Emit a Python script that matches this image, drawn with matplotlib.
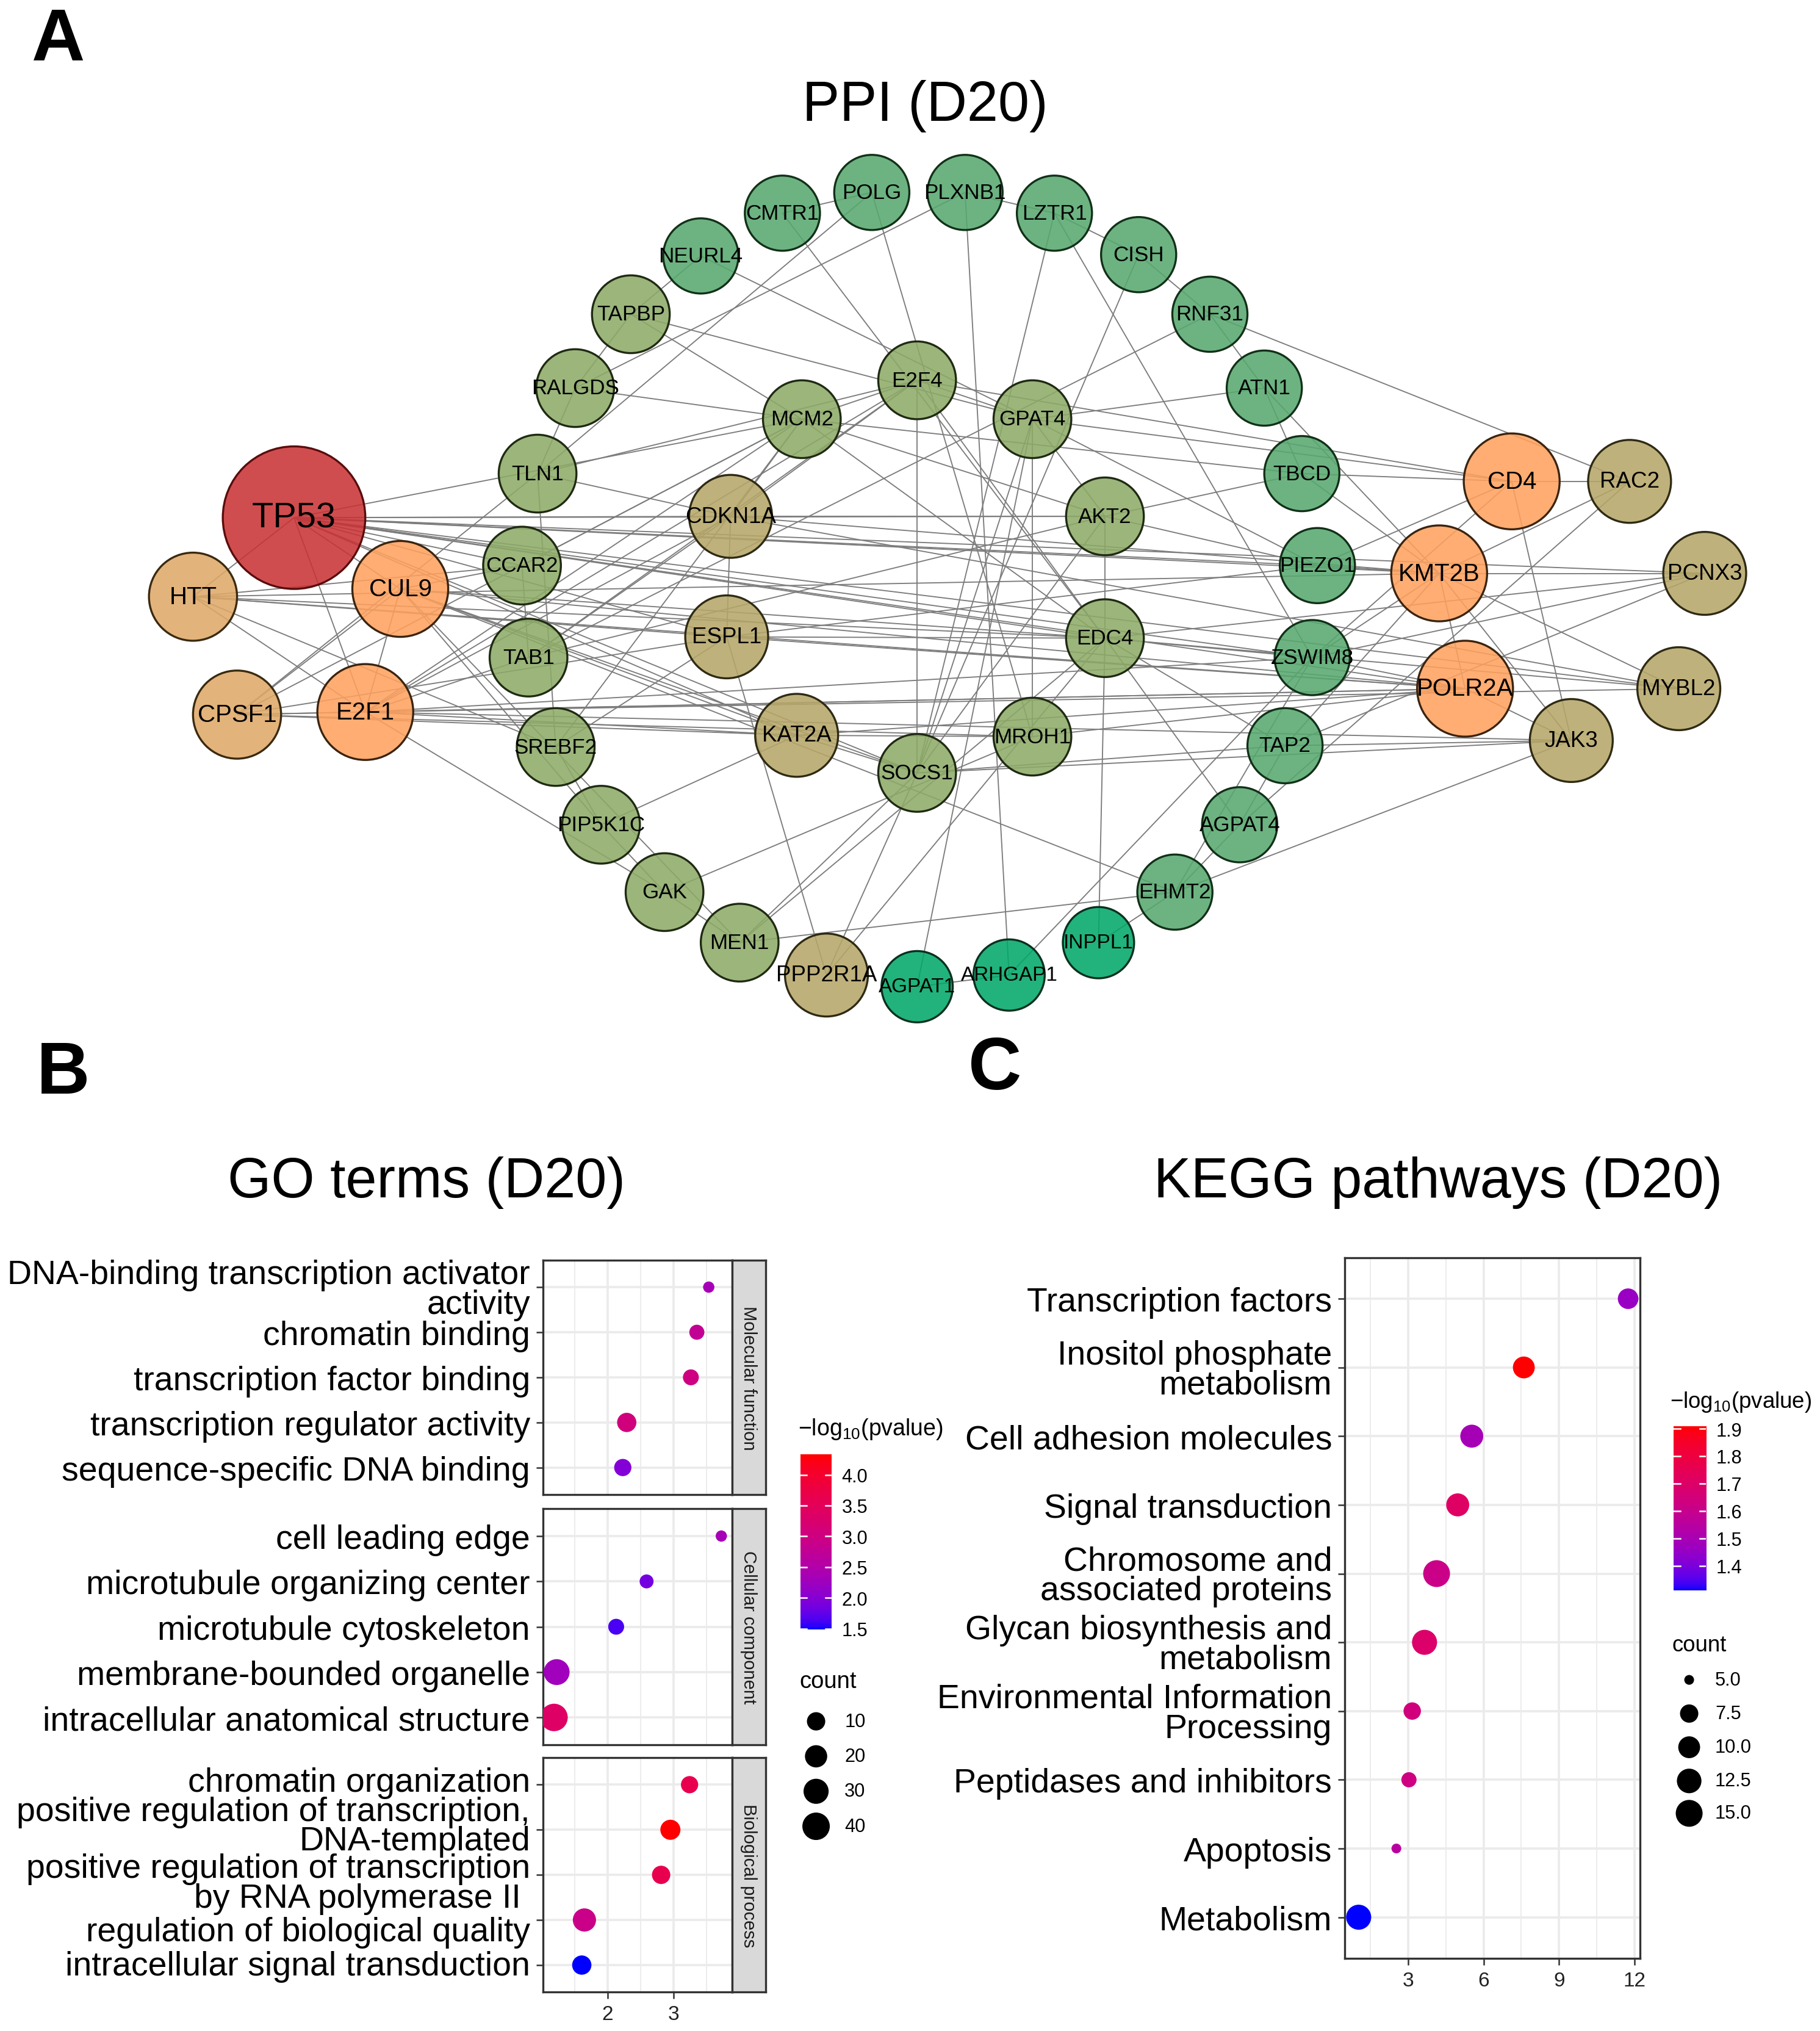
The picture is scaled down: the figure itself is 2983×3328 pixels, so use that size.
import numpy as np
import matplotlib
matplotlib.use('Agg')
import matplotlib.pyplot as plt
from matplotlib import font_manager
from matplotlib.patches import Circle
from matplotlib.colors import ListedColormap, Normalize, to_rgba
from matplotlib.transforms import ScaledTranslation

plt.rcParams['font.family'] = ['Liberation Sans', 'DejaVu Sans']
plt.rcParams['mathtext.fontset'] = 'custom'
plt.rcParams['mathtext.rm'] = 'Liberation Sans'
plt.rcParams['mathtext.it'] = 'Liberation Sans:italic'

# layout units: the reference page at 1405 x 1568
W, H = 1405, 1568

# ---------------- PPI network (D20) ----------------
node_names = ['TP53', 'HTT', 'CUL9', 'CPSF1', 'E2F1',
              'CD4', 'KMT2B', 'POLR2A',
              'RAC2', 'PCNX3', 'MYBL2', 'JAK3', 'CDKN1A', 'ESPL1', 'KAT2A', 'PPP2R1A',
              'TAPBP', 'RALGDS', 'TLN1', 'CCAR2', 'TAB1', 'SREBF2', 'PIP5K1C', 'GAK', 'MEN1',
              'MCM2', 'E2F4', 'GPAT4', 'AKT2', 'EDC4', 'MROH1', 'SOCS1',
              'NEURL4', 'CMTR1', 'POLG', 'PLXNB1', 'LZTR1', 'CISH', 'RNF31', 'ATN1',
              'TBCD', 'PIEZO1', 'ZSWIM8', 'TAP2', 'AGPAT4', 'EHMT2',
              'AGPAT1', 'ARHGAP1', 'INPPL1']
node_x = [227, 149, 309, 183, 282,
          1167, 1111, 1131,
          1258, 1316, 1296, 1213, 564, 561, 615, 638,
          487, 444, 415, 403, 408, 429, 464, 513, 571,
          619, 708, 797, 853, 853, 797, 708,
          541, 604, 673, 745, 814, 879, 934, 976,
          1005, 1017, 1013, 992, 957, 907,
          708, 779, 848]
node_y = [400, 461, 455, 552, 550,
          372, 443, 532,
          372, 443, 532, 572, 399, 492, 568, 753,
          243, 300, 366, 437, 508, 577, 637, 689, 728,
          324, 294, 324, 399, 493, 569, 597,
          198, 165, 149, 149, 165, 197, 243, 300,
          366, 437, 508, 576, 637, 689,
          762, 753, 728]
node_group = ['hub', 'sand', 'orange', 'sand', 'orange',
              'orange', 'orange', 'orange',
              'tan', 'tan', 'tan', 'tan', 'tan', 'tan', 'tan', 'tan',
              'olive', 'olive', 'olive', 'olive', 'olive', 'olive', 'olive', 'olive', 'olive',
              'olive', 'olive', 'olive', 'olive', 'olive', 'olive', 'olive',
              'green', 'green', 'green', 'green', 'green', 'green', 'green', 'green',
              'green', 'green', 'green', 'green', 'green', 'green',
              'bright', 'bright', 'bright']

edges = [
    ('TP53', 'MCM2'), ('TP53', 'CDKN1A'), ('TP53', 'AKT2'), ('TP53', 'PIEZO1'), ('TP53', 'KMT2B'),
    ('TP53', 'EDC4'), ('TP53', 'ZSWIM8'), ('TP53', 'POLR2A'), ('TP53', 'MYBL2'), ('TP53', 'ESPL1'),
    ('TP53', 'KAT2A'), ('TP53', 'SOCS1'), ('TP53', 'HTT'), ('TP53', 'CUL9'), ('TP53', 'E2F1'),
    ('TP53', 'PCNX3'), ('TP53', 'CCAR2'),
    ('HTT', 'KMT2B'), ('HTT', 'POLR2A'), ('HTT', 'EDC4'), ('HTT', 'CCAR2'), ('HTT', 'E2F1'),
    ('HTT', 'SREBF2'), ('HTT', 'ESPL1'),
    ('CUL9', 'E2F1'), ('CUL9', 'KAT2A'), ('CUL9', 'EHMT2'), ('CUL9', 'PIP5K1C'), ('CUL9', 'CCAR2'),
    ('CUL9', 'POLR2A'), ('CUL9', 'EDC4'), ('CUL9', 'SOCS1'), ('CUL9', 'MEN1'), ('CUL9', 'CPSF1'),
    ('E2F1', 'CPSF1'), ('E2F1', 'MCM2'), ('E2F1', 'CDKN1A'), ('E2F1', 'POLR2A'), ('E2F1', 'KAT2A'),
    ('E2F1', 'MYBL2'), ('E2F1', 'GAK'), ('E2F1', 'TAB1'), ('E2F1', 'E2F4'), ('E2F1', 'ZSWIM8'),
    ('E2F1', 'JAK3'),
    ('CPSF1', 'POLR2A'), ('CPSF1', 'KAT2A'), ('CPSF1', 'TLN1'), ('CPSF1', 'MROH1'), ('CPSF1', 'ESPL1'),
    ('CPSF1', 'MCM2'),
    ('TAPBP', 'NEURL4'), ('TAPBP', 'RALGDS'), ('TAPBP', 'MCM2'), ('TAPBP', 'GPAT4'),
    ('RALGDS', 'TLN1'), ('RALGDS', 'MCM2'), ('RALGDS', 'PLXNB1'),
    ('TLN1', 'CDKN1A'), ('TLN1', 'SREBF2'), ('TLN1', 'E2F4'),
    ('CCAR2', 'TAB1'), ('CCAR2', 'MCM2'),
    ('TAB1', 'AKT2'), ('TAB1', 'CDKN1A'),
    ('SREBF2', 'ESPL1'), ('SREBF2', 'PIP5K1C'),
    ('PIP5K1C', 'GAK'), ('PIP5K1C', 'KAT2A'),
    ('GAK', 'MEN1'), ('GAK', 'MROH1'),
    ('MEN1', 'EHMT2'), ('MEN1', 'SOCS1'), ('MEN1', 'EDC4'),
    ('PPP2R1A', 'ESPL1'), ('PPP2R1A', 'SOCS1'), ('PPP2R1A', 'EDC4'),
    ('AGPAT1', 'GPAT4'), ('AGPAT1', 'ARHGAP1'),
    ('ARHGAP1', 'PLXNB1'), ('ARHGAP1', 'ZSWIM8'),
    ('INPPL1', 'EDC4'), ('INPPL1', 'EHMT2'),
    ('EHMT2', 'JAK3'), ('EHMT2', 'AGPAT4'), ('EHMT2', 'ZSWIM8'),
    ('AGPAT4', 'TAP2'), ('AGPAT4', 'EDC4'), ('AGPAT4', 'RAC2'),
    ('TAP2', 'JAK3'), ('TAP2', 'KMT2B'), ('TAP2', 'EDC4'), ('TAP2', 'SOCS1'),
    ('ZSWIM8', 'POLR2A'), ('ZSWIM8', 'KMT2B'), ('ZSWIM8', 'PCNX3'),
    ('PIEZO1', 'KMT2B'), ('PIEZO1', 'AKT2'), ('PIEZO1', 'GPAT4'), ('PIEZO1', 'ESPL1'),
    ('TBCD', 'CD4'), ('TBCD', 'AKT2'), ('TBCD', 'KMT2B'), ('TBCD', 'MCM2'),
    ('ATN1', 'GPAT4'), ('ATN1', 'TBCD'), ('ATN1', 'KMT2B'),
    ('CD4', 'RAC2'), ('CD4', 'JAK3'), ('CD4', 'GPAT4'), ('CD4', 'E2F4'), ('CD4', 'ZSWIM8'),
    ('CD4', 'PIEZO1'),
    ('RAC2', 'RNF31'), ('RAC2', 'KMT2B'),
    ('PCNX3', 'KMT2B'), ('PCNX3', 'EDC4'), ('PCNX3', 'TAP2'),
    ('MYBL2', 'KMT2B'), ('MYBL2', 'EDC4'), ('MYBL2', 'CDKN1A'),
    ('JAK3', 'POLR2A'), ('JAK3', 'SOCS1'), ('JAK3', 'KMT2B'),
    ('KMT2B', 'POLR2A'), ('KMT2B', 'CDKN1A'),
    ('POLR2A', 'MROH1'), ('POLR2A', 'KAT2A'), ('POLR2A', 'ESPL1'),
    ('MCM2', 'E2F4'), ('MCM2', 'CDKN1A'), ('MCM2', 'AKT2'), ('MCM2', 'EDC4'), ('MCM2', 'SREBF2'),
    ('E2F4', 'GPAT4'), ('E2F4', 'EDC4'), ('E2F4', 'CDKN1A'), ('E2F4', 'TAB1'), ('E2F4', 'SOCS1'),
    ('GPAT4', 'MROH1'), ('GPAT4', 'SOCS1'), ('GPAT4', 'AKT2'),
    ('AKT2', 'EDC4'), ('AKT2', 'CDKN1A'), ('AKT2', 'SOCS1'),
    ('EDC4', 'ZSWIM8'), ('EDC4', 'ESPL1'),
    ('CDKN1A', 'ESPL1'),
    ('KAT2A', 'SOCS1'), ('KAT2A', 'MROH1'),
    ('CMTR1', 'POLG'), ('CMTR1', 'EDC4'),
    ('POLG', 'MROH1'), ('POLG', 'TLN1'),
    ('PLXNB1', 'LZTR1'),
    ('LZTR1', 'CISH'), ('LZTR1', 'ZSWIM8'), ('LZTR1', 'SOCS1'),
    ('CISH', 'RNF31'), ('CISH', 'SOCS1'),
    ('RNF31', 'ATN1'), ('RNF31', 'TAB1'),
    ('NEURL4', 'GPAT4'),
]

# ---------------- GO terms (D20) ----------------
go_mf_terms = ['DNA-binding transcription activator\nactivity', 'chromatin binding',
               'transcription factor binding', 'transcription regulator activity',
               'sequence-specific DNA binding']
go_mf_x = [3.53, 3.35, 3.26, 2.29, 2.23]
go_mf_count = [3, 5, 6, 12, 8]
go_mf_logp = [2.34, 2.77, 3.00, 3.05, 1.97]

go_cc_terms = ['cell leading edge', 'microtubule organizing center', 'microtubule cytoskeleton',
               'membrane-bounded organelle', 'intracellular anatomical structure']
go_cc_x = [3.72, 2.59, 2.13, 1.23, 1.19]
go_cc_count = [3, 4, 6, 33, 40]
go_cc_logp = [2.34, 1.86, 1.63, 2.28, 3.35]

go_bp_terms = ['chromatin organization', 'positive regulation of transcription,\nDNA-templated',
               'positive regulation of transcription\nby RNA polymerase II ',
               'regulation of biological quality', 'intracellular signal transduction']
go_bp_x = [3.24, 2.95, 2.81, 1.65, 1.61]
go_bp_count = [8, 14, 10, 23, 12]
go_bp_logp = [3.62, 4.33, 3.62, 2.91, 1.49]

go_facets = ['Molecular function', 'Cellular component', 'Biological process']
go_legend_counts = [10, 20, 30, 40]
go_legend_ticks = [1.5, 2.0, 2.5, 3.0, 3.5, 4.0]

# ---------------- KEGG pathways (D20) ----------------
kegg_terms = ['Transcription factors', 'Inositol phosphate\nmetabolism', 'Cell adhesion molecules',
              'Signal transduction', 'Chromosome and\nassociated proteins',
              'Glycan biosynthesis and\nmetabolism', 'Environmental Information\nProcessing',
              'Peptidases and inhibitors', 'Apoptosis', 'Metabolism']
kegg_x = [11.75, 7.60, 5.53, 4.97, 4.13, 3.65, 3.16, 3.03, 2.53, 1.03]
kegg_count = [9, 10, 11, 11, 15, 13, 7, 6, 5, 13]
kegg_logp = [1.46, 1.91, 1.49, 1.71, 1.61, 1.69, 1.64, 1.63, 1.55, 1.31]
kegg_legend_counts = [5.0, 7.5, 10.0, 12.5, 15.0]
kegg_legend_ticks = [1.4, 1.5, 1.6, 1.7, 1.8, 1.9]


# ---------------- helpers ----------------
M_RGB2XYZ = np.array([[0.4124564, 0.3575761, 0.1804375],
                      [0.2126729, 0.7151522, 0.0721750],
                      [0.0193339, 0.1191920, 0.9503041]])
WHITE = np.array([0.95047, 1.0, 1.08883])


def to_lab(rgb):
    rgb = np.asarray(rgb, float)
    lin = np.where(rgb <= 0.04045, rgb / 12.92, ((rgb + 0.055) / 1.055) ** 2.4)
    xyz = M_RGB2XYZ @ lin / WHITE
    f = np.where(xyz > (6 / 29) ** 3, np.cbrt(xyz), xyz / (3 * (6 / 29) ** 2) + 4 / 29)
    return np.array([116 * f[1] - 16, 500 * (f[0] - f[1]), 200 * (f[1] - f[2])])


def from_lab(lab):
    L, a, b = lab
    fy = (L + 16) / 116
    f = np.array([fy + a / 500, fy, fy - b / 200])
    xyz = np.where(f > 6 / 29, f ** 3, 3 * (6 / 29) ** 2 * (f - 4 / 29)) * WHITE
    lin = np.clip(np.linalg.solve(M_RGB2XYZ, xyz), 0, 1)
    rgb = np.where(lin <= 0.0031308, 12.92 * lin, 1.055 * lin ** (1 / 2.4) - 0.055)
    return np.clip(rgb, 0, 1)


# ggplot-like blue -> red gradient interpolated in Lab space
lab_lo, lab_hi = to_lab([0, 0, 1]), to_lab([1, 0, 0])
grad = ListedColormap([from_lab(lab_lo + t * (lab_hi - lab_lo)) for t in np.linspace(0, 1, 256)])


def dot_size(count, cmin, cmax, dmin, dmax):
    # area-style size scale, diameters in output pixels -> scatter area in pt^2
    t = (np.asarray(count, float) - cmin) / (cmax - cmin)
    d = dmin + (dmax - dmin) * np.sqrt(np.clip(t, 0, 1))
    return (d * 72 / 300) ** 2


def box(x0, y0, x1, y1):
    return [x0 / W, 1 - y1 / H, (x1 - x0) / W, (y1 - y0) / H]


fig = plt.figure(figsize=(2983 / 300, 3329 / 300), dpi=300)

# full-page layout axes (network + legends)
ax = fig.add_axes([0, 0, 1, 1])
ax.set_xlim(0, W)
ax.set_ylim(H, 0)
ax.axis('off')

available = {f.name for f in font_manager.fontManager.ttflist}
if 'Liberation Sans Narrow' in available:
    node_font, fs_scale = 'Liberation Sans Narrow', 1.0
else:
    node_font, fs_scale = 'Liberation Sans', 0.84

group_style = {
    'hub': dict(fill='#C93235', edge='#5a0c0c', r=55, fs=16.5),
    'orange': dict(fill='#FFA15E', edge='#3a2410', r=37, fs=11.5),
    'sand': dict(fill='#DEA867', edge='#3a2a10', r=34, fs=11.5),
    'tan': dict(fill='#B6A667', edge='#2e2a14', r=32, fs=10.5),
    'olive': dict(fill='#8CAA67', edge='#1f2a12', r=30, fs=10),
    'green': dict(fill='#56A86E', edge='#123018', r=29, fs=10),
    'bright': dict(fill='#00A867', edge='#0a3020', r=27.5, fs=9.5),
}

pos = dict(zip(node_names, zip(node_x, node_y)))
for a, b in edges:
    ax.plot([pos[a][0], pos[b][0]], [pos[a][1], pos[b][1]],
            color='#7c7c7c', lw=0.45, zorder=1, solid_capstyle='butt')

for name, x, y, g in zip(node_names, node_x, node_y, node_group):
    st = group_style[g]
    ax.add_patch(Circle((x, y), st['r'], facecolor=to_rgba(st['fill'], 0.87),
                        edgecolor=st['edge'], lw=0.8, zorder=2))
    ax.text(x, y, name, ha='center', va='center', fontsize=st['fs'] * fs_scale,
            family=node_font, color='black', zorder=3)

# titles and panel letters
fig.text(714 / W, 1 - 82 / H, 'PPI (D20)', ha='center', va='center', fontsize=22)
fig.text(329 / W, 1 - 913 / H, 'GO terms (D20)', ha='center', va='center', fontsize=22)
fig.text(1110 / W, 1 - 913 / H, 'KEGG pathways (D20)', ha='center', va='center', fontsize=22)
for letter, lx, ly in [('A', 45, 32), ('B', 49, 829), ('C', 768, 826)]:
    fig.text(lx / W, 1 - ly / H, letter, ha='center', va='center', fontsize=29, fontweight='bold')


def style_dotplot(a, xlim, major, minor, nrows):
    a.set_xlim(*xlim)
    a.set_ylim(nrows - 1 + 0.6, -0.6)
    a.set_xticks(major)
    a.set_xticks(minor, minor=True)
    a.set_yticks(range(nrows))
    a.grid(which='major', color='#EBEBEB', lw=0.9, zorder=0)
    a.grid(which='minor', axis='x', color='#EBEBEB', lw=0.45, zorder=0)
    a.set_axisbelow(True)
    for sp in a.spines.values():
        sp.set_color('#333333')
        sp.set_linewidth(0.8)
    a.tick_params(which='major', length=2.75, width=0.6, color='#333333', pad=2.2)
    a.tick_params(which='minor', length=0)
    a.tick_params(axis='x', labelsize=8, labelcolor='#222222')
    a.tick_params(axis='y', labelsize=13.3, labelcolor='black')


# ---- GO dot plot (faceted) ----
go_all_counts = go_mf_count + go_cc_count + go_bp_count
go_all_logp = go_mf_logp + go_cc_logp + go_bp_logp
go_norm = Normalize(min(go_all_logp), max(go_all_logp))
go_cmin, go_cmax = min(go_all_counts), max(go_all_counts)
go_xlim = (1.02, 3.88)
facet_boxes = [(973, 1154), (1165, 1347), (1357, 1538)]
facet_data = [(go_mf_terms, go_mf_x, go_mf_count, go_mf_logp),
              (go_cc_terms, go_cc_x, go_cc_count, go_cc_logp),
              (go_bp_terms, go_bp_x, go_bp_count, go_bp_logp)]
# vertical nudges (inches) of the crowded biological-process labels, as laid out in the original
bp_label_nudge = [0.032, 0.032, -0.032, -0.046, 0.012]
for i, ((y0, y1), (terms, xs, cnt, lp), facet) in enumerate(zip(facet_boxes, facet_data, go_facets)):
    a = fig.add_axes(box(419, y0, 565, y1))
    style_dotplot(a, go_xlim, [2, 3], [1.5, 2.5, 3.5], len(terms))
    a.scatter(xs, range(len(terms)), s=dot_size(cnt, go_cmin, go_cmax, 18.5, 45),
              c=lp, cmap=grad, norm=go_norm, edgecolors='none', zorder=3)
    a.set_yticklabels(terms, linespacing=0.92)
    if i < 2:
        a.tick_params(axis='x', which='both', bottom=False, labelbottom=False)
    else:
        for lab, dy in zip(a.get_yticklabels(), bp_label_nudge):
            lab.set_transform(lab.get_transform() + ScaledTranslation(0, dy, fig.dpi_scale_trans))
    s = fig.add_axes(box(565, y0, 591, y1))
    s.set_facecolor('#D9D9D9')
    s.set_xticks([])
    s.set_yticks([])
    for sp in s.spines.values():
        sp.set_color('#333333')
        sp.set_linewidth(0.8)
    s.text(0.5, 0.5, facet, rotation=270, ha='center', va='center', fontsize=7,
           color='#1a1a1a', transform=s.transAxes)

# ---- KEGG dot plot ----
k = fig.add_axes(box(1038, 971, 1266, 1512))
style_dotplot(k, (0.47, 12.22), [3, 6, 9, 12], [1.5, 4.5, 7.5, 10.5], len(kegg_terms))
kegg_norm = Normalize(min(kegg_logp), max(kegg_logp))
k_cmin, k_cmax = min(kegg_count), max(kegg_count)
k.scatter(kegg_x, range(len(kegg_terms)), s=dot_size(kegg_count, k_cmin, k_cmax, 16, 44),
          c=kegg_logp, cmap=grad, norm=kegg_norm, edgecolors='none', zorder=3)
k.set_yticklabels(kegg_terms, linespacing=0.92)


# ---- legends ----
def colorbar(bx, norm, ticks, fmt):
    c = fig.add_axes(bx)
    c.imshow(np.linspace(norm.vmin, norm.vmax, 300)[:, None], cmap=grad, norm=norm,
             aspect='auto', origin='lower', extent=[0, 1, norm.vmin, norm.vmax])
    c.set_xlim(0, 1)
    c.set_ylim(norm.vmin, norm.vmax)
    for t in ticks:
        c.plot([0, 0.2], [t, t], color='white', lw=0.6)
        c.plot([0.8, 1], [t, t], color='white', lw=0.6)
    c.set_xticks([])
    c.yaxis.tick_right()
    c.set_yticks(ticks)
    c.set_yticklabels([fmt.format(t) for t in ticks])
    c.tick_params(axis='y', length=0, pad=4, labelsize=7.4)
    for sp in c.spines.values():
        sp.set_visible(False)


legend_title = '\u2212log$_{10}$(pvalue)'
ax.text(616, 1103, legend_title, ha='left', va='center', fontsize=9)
colorbar(box(618, 1123, 642, 1258), go_norm, go_legend_ticks, '{:.1f}')
ax.text(617, 1298, 'count', ha='left', va='center', fontsize=9.2)
go_leg_y = [1329, 1356, 1383, 1410]
ax.scatter([630] * len(go_legend_counts), go_leg_y,
           s=dot_size(go_legend_counts, go_cmin, go_cmax, 18.5, 45), color='black',
           edgecolors='none', zorder=4)
for yy, c in zip(go_leg_y, go_legend_counts):
    ax.text(652, yy, str(c), ha='left', va='center', fontsize=7.4)

ax.text(1289, 1082, legend_title, ha='left', va='center', fontsize=8.8)
colorbar(box(1292, 1101, 1317, 1228), kegg_norm, kegg_legend_ticks, '{:.1f}')
ax.text(1291, 1270, 'count', ha='left', va='center', fontsize=8.8)
kegg_leg_y = [1297, 1323, 1349, 1375, 1400]
ax.scatter([1304] * len(kegg_legend_counts), kegg_leg_y,
           s=dot_size(kegg_legend_counts, k_cmin, k_cmax, 16, 44), color='black',
           edgecolors='none', zorder=4)
for yy, c in zip(kegg_leg_y, kegg_legend_counts):
    ax.text(1324, yy, '{:.1f}'.format(c), ha='left', va='center', fontsize=7.4)

fig.savefig('out.png', dpi=300)
